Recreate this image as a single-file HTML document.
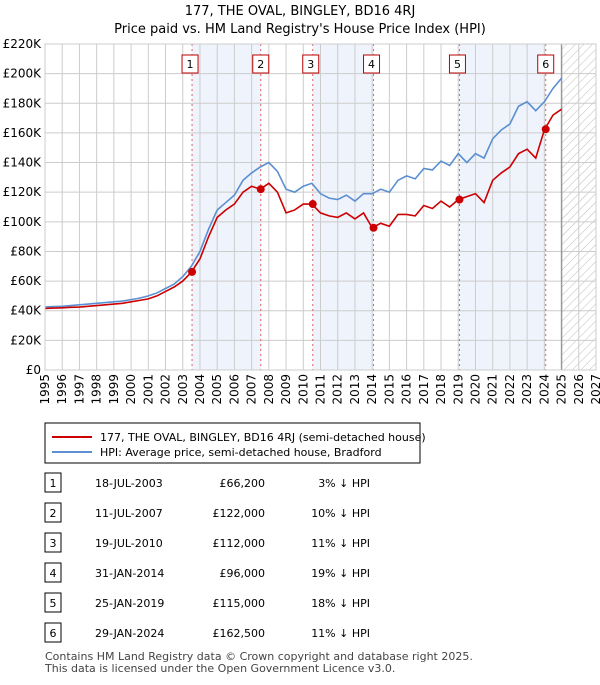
<!DOCTYPE html>
<html><head><meta charset="utf-8"><style>
body{margin:0;background:#fff;font-family:"Liberation Sans","DejaVu Sans",sans-serif;}
svg text{font-family:"DejaVu Sans","Liberation Sans",sans-serif;}
</style></head><body>
<svg id="c" width="600" height="680" xmlns="http://www.w3.org/2000/svg">
<text x="300" y="15" text-anchor="middle" font-size="13">177, THE OVAL, BINGLEY, BD16 4RJ</text>
<text x="300" y="33" text-anchor="middle" font-size="13">Price paid vs. HM Land Registry's House Price Index (HPI)</text>
<g id="plot"></g>
<rect x="45" y="423" width="375" height="40" fill="#fff" stroke="#000"/>
<line x1="52" y1="437" x2="92" y2="437" stroke="#cc0000" stroke-width="2"/>
<text x="100" y="441" font-size="11">177, THE OVAL, BINGLEY, BD16 4RJ (semi-detached house)</text>
<line x1="52" y1="452" x2="92" y2="452" stroke="#5b8fd1" stroke-width="2"/>
<text x="100" y="456" font-size="11">HPI: Average price, semi-detached house, Bradford</text>
<g id="table"></g>
<text x="45" y="660" font-size="11" fill="#444">Contains HM Land Registry data © Crown copyright and database right 2025.</text>
<text x="45" y="672" font-size="11" fill="#444">This data is licensed under the Open Government Licence v3.0.</text>
</svg>
<script>
const years=[];for(let i=0;i<=60;i++)years.push(1995+i*0.5);
const hpi=[42.5,42.8,43,43.5,44,44.5,45,45.5,46,46.5,47.5,48.5,50,52,55,58,63,70,80,95,108,113,118,128,133,137,140,134,122,120,124,126,119,116,115,118,114,119,119,122,120,128,131,129,136,135,141,138,146,140,146,143,156,162,166,178,181,175,181,190,197];
const red=[41.5,41.8,42,42.3,42.5,43,43.5,44,44.5,45,46,47,48,50,53,56,60,66,75,90,103,108,112,120,124,122,126,120,106,108,112,112,106,104,103,106,102,106,96,99,97,105,105,104,111,109,114,110,115,117,119,113,128,133,137,146,149,143,162,172,176];
const saleDates=[2003.54,2007.53,2010.55,2014.08,2019.07,2024.08];
const salePrices=[66.2,122,112,96,115,162.5];
const saleLabels=["1","2","3","4","5","6"];
const saleDateText=["18-JUL-2003","11-JUL-2007","19-JUL-2010","31-JAN-2014","25-JAN-2019","29-JAN-2024"];
const salePriceText=["£66,200","£122,000","£112,000","£96,000","£115,000","£162,500"];
const salePctText=["3% ↓ HPI","10% ↓ HPI","11% ↓ HPI","19% ↓ HPI","18% ↓ HPI","11% ↓ HPI"];
const yTicks=[0,20,40,60,80,100,120,140,160,180,200,220];
const xTicks=[];for(let y=1995;y<=2027;y++)xTicks.push(y);
const X0=45,X1=596,Y0=370,Y1=44;
const xs=v=>X0+(v-1995)/(2027-1995)*(X1-X0);
const ys=v=>Y0-v/220*(Y0-Y1);
const NS="http://www.w3.org/2000/svg";
const plot=document.getElementById('plot');
function mk(tag,attrs,parent){const e=document.createElementNS(NS,tag);for(const k in attrs)e.setAttribute(k,attrs[k]);(parent||plot).appendChild(e);return e;}
const defs=mk('defs',{});
const pat=mk('pattern',{id:'hatch',width:6,height:6,patternUnits:'userSpaceOnUse',patternTransform:'rotate(45)'},defs);
mk('line',{x1:0,y1:0,x2:0,y2:6,stroke:'#bbb','stroke-width':1},pat);
for(let i=0;i<saleDates.length;i+=2){
 const r=mk('rect',{x:xs(saleDates[i]),y:Y1,width:xs(saleDates[i+1])-xs(saleDates[i]),height:Y0-Y1,fill:'#eef3fc'});
 
 
}
const h=mk('rect',{x:xs(2025),y:Y1,width:X1-xs(2025),height:Y0-Y1,fill:'url(#hatch)'});


yTicks.forEach(t=>{
 const l=mk('line',{x1:X0,x2:X1,y1:ys(t),y2:ys(t),stroke:'#ccc'});
 
 
 const tx=mk('text',{x:X0-4,y:ys(t)+4,'text-anchor':'end','font-size':12});
 tx.textContent=t===0?'£0':'£'+t+'K';
 
 
});
xTicks.forEach(t=>{
 const l=mk('line',{x1:xs(t),x2:xs(t),y1:Y1,y2:Y0,stroke:'#ccc'});
 
 
 const px=xs(t)+4,py=374;
 const tx=mk('text',{x:px,y:py,'text-anchor':'end','font-size':12,transform:'rotate(-90 '+px+' '+py+')'});
 tx.textContent=t;
 
 
});
const vl=mk('line',{x1:xs(2025),x2:xs(2025),y1:Y1,y2:Y0,stroke:'#999','stroke-width':1.5});


saleDates.forEach((d,i)=>{
 const l=mk('line',{x1:xs(d),x2:xs(d),y1:Y1,y2:Y0,stroke:'#e06060','stroke-dasharray':'2,3'});
 
 
 const bx=xs(d)-(i==0?10:(i<5?4:8))-(i==1?4:0)-(i==2?6:0)-(i==3?6:0)-(i==4?6:0);
 const b=mk('rect',{x:bx,y:55,width:16,height:18,fill:'#fff',stroke:'#b00'});
 
 
 const t=mk('text',{x:bx+8,y:68,'text-anchor':'middle','font-size':11});
 t.textContent=saleLabels[i];
 
 
});
const hp=mk('polyline',{points:years.map((y,i)=>xs(y)+','+ys(hpi[i])).join(' '),fill:'none',stroke:'#5b8fd1','stroke-width':1.6});


const rp=mk('polyline',{points:years.map((y,i)=>xs(y)+','+ys(red[i])).join(' '),fill:'none',stroke:'#cc0000','stroke-width':1.6});


saleDates.forEach((d,i)=>{
 const c=mk('circle',{cx:xs(d),cy:ys(salePrices[i]),r:4,fill:'#cc0000'});
 
 
});
const ax=mk('rect',{x:X0,y:Y1,width:X1-X0,height:Y0-Y1,fill:'none',stroke:'#ccc'});


const tb=document.getElementById('table');
saleLabels.forEach((s,i)=>{
 const y=483+i*30;
 const b=mk('rect',{x:45,y:y-10,width:16,height:19,fill:'#fff',stroke:'#000'},tb);
 
 
 const cells=[[53,'middle',s],[95,'start',saleDateText[i]],[265,'end',salePriceText[i]],[370,'end',salePctText[i]]];
 cells.forEach(c=>{
  const t=mk('text',{x:c[0],y:y+4,'text-anchor':c[1],'font-size':11},tb);
  t.textContent=c[2];
  
  
 });
});
</script>
</body></html>
